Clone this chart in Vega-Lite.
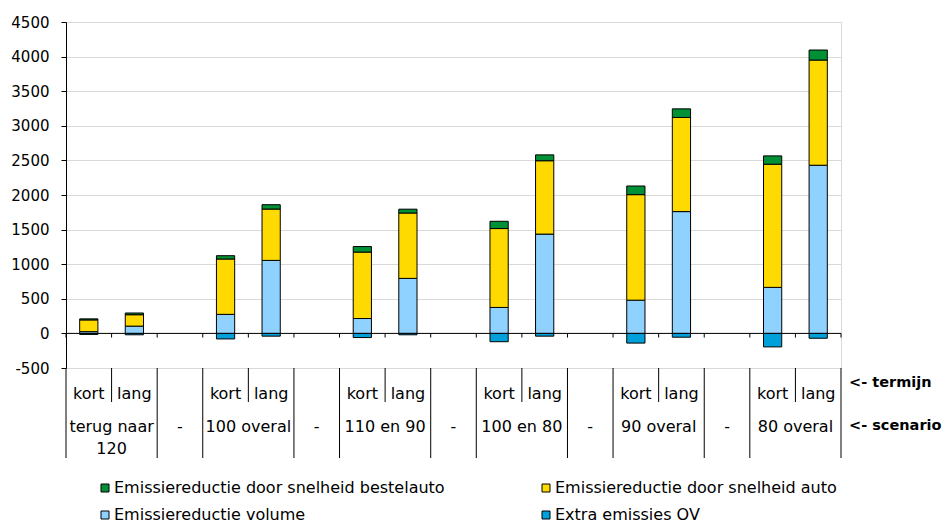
{
  "$schema": "https://vega.github.io/schema/vega-lite/v6.json",
  "background": "white",
  "padding": {"left": 10, "top": 14, "right": 0, "bottom": 0},
  "bounds": "flush",
  "spacing": 0,
  "config": {
    "font": "DejaVu Sans",
    "text": {"font": "DejaVu Sans", "fontSize": 16, "color": "black"},
    "rule": {"color": "black", "strokeWidth": 1}
  },
  "datasets": {
    "uitstoot": [
      {"vak": "120-kort", "reeks": "Emissiereductie volume", "waarde": 25},
      {"vak": "120-kort", "reeks": "Emissiereductie door snelheid auto", "waarde": 170},
      {"vak": "120-kort", "reeks": "Emissiereductie door snelheid bestelauto", "waarde": 15},
      {"vak": "120-kort", "reeks": "Extra emissies OV", "waarde": -15},
      {"vak": "120-lang", "reeks": "Emissiereductie volume", "waarde": 105},
      {"vak": "120-lang", "reeks": "Emissiereductie door snelheid auto", "waarde": 165},
      {"vak": "120-lang", "reeks": "Emissiereductie door snelheid bestelauto", "waarde": 25},
      {"vak": "120-lang", "reeks": "Extra emissies OV", "waarde": -20},
      {"vak": "100-kort", "reeks": "Emissiereductie volume", "waarde": 275},
      {"vak": "100-kort", "reeks": "Emissiereductie door snelheid auto", "waarde": 800},
      {"vak": "100-kort", "reeks": "Emissiereductie door snelheid bestelauto", "waarde": 48},
      {"vak": "100-kort", "reeks": "Extra emissies OV", "waarde": -80},
      {"vak": "100-lang", "reeks": "Emissiereductie volume", "waarde": 1055},
      {"vak": "100-lang", "reeks": "Emissiereductie door snelheid auto", "waarde": 742},
      {"vak": "100-lang", "reeks": "Emissiereductie door snelheid bestelauto", "waarde": 63},
      {"vak": "100-lang", "reeks": "Extra emissies OV", "waarde": -40},
      {"vak": "110/90-kort", "reeks": "Emissiereductie volume", "waarde": 215},
      {"vak": "110/90-kort", "reeks": "Emissiereductie door snelheid auto", "waarde": 960},
      {"vak": "110/90-kort", "reeks": "Emissiereductie door snelheid bestelauto", "waarde": 80},
      {"vak": "110/90-kort", "reeks": "Extra emissies OV", "waarde": -60},
      {"vak": "110/90-lang", "reeks": "Emissiereductie volume", "waarde": 795},
      {"vak": "110/90-lang", "reeks": "Emissiereductie door snelheid auto", "waarde": 945},
      {"vak": "110/90-lang", "reeks": "Emissiereductie door snelheid bestelauto", "waarde": 55},
      {"vak": "110/90-lang", "reeks": "Extra emissies OV", "waarde": -20},
      {"vak": "100/80-kort", "reeks": "Emissiereductie volume", "waarde": 375},
      {"vak": "100/80-kort", "reeks": "Emissiereductie door snelheid auto", "waarde": 1140},
      {"vak": "100/80-kort", "reeks": "Emissiereductie door snelheid bestelauto", "waarde": 105},
      {"vak": "100/80-kort", "reeks": "Extra emissies OV", "waarde": -120},
      {"vak": "100/80-lang", "reeks": "Emissiereductie volume", "waarde": 1435},
      {"vak": "100/80-lang", "reeks": "Emissiereductie door snelheid auto", "waarde": 1060},
      {"vak": "100/80-lang", "reeks": "Emissiereductie door snelheid bestelauto", "waarde": 85},
      {"vak": "100/80-lang", "reeks": "Extra emissies OV", "waarde": -40},
      {"vak": "90-kort", "reeks": "Emissiereductie volume", "waarde": 480},
      {"vak": "90-kort", "reeks": "Emissiereductie door snelheid auto", "waarde": 1525},
      {"vak": "90-kort", "reeks": "Emissiereductie door snelheid bestelauto", "waarde": 125},
      {"vak": "90-kort", "reeks": "Extra emissies OV", "waarde": -140},
      {"vak": "90-lang", "reeks": "Emissiereductie volume", "waarde": 1760},
      {"vak": "90-lang", "reeks": "Emissiereductie door snelheid auto", "waarde": 1360},
      {"vak": "90-lang", "reeks": "Emissiereductie door snelheid bestelauto", "waarde": 125},
      {"vak": "90-lang", "reeks": "Extra emissies OV", "waarde": -55},
      {"vak": "80-kort", "reeks": "Emissiereductie volume", "waarde": 665},
      {"vak": "80-kort", "reeks": "Emissiereductie door snelheid auto", "waarde": 1780},
      {"vak": "80-kort", "reeks": "Emissiereductie door snelheid bestelauto", "waarde": 120},
      {"vak": "80-kort", "reeks": "Extra emissies OV", "waarde": -195},
      {"vak": "80-lang", "reeks": "Emissiereductie volume", "waarde": 2430},
      {"vak": "80-lang", "reeks": "Emissiereductie door snelheid auto", "waarde": 1520},
      {"vak": "80-lang", "reeks": "Emissiereductie door snelheid bestelauto", "waarde": 145},
      {"vak": "80-lang", "reeks": "Extra emissies OV", "waarde": -70}
    ],
    "vakken": [
      {"vak": "120-kort", "termijn": "kort", "scenario": ""},
      {"vak": "120-lang", "termijn": "lang", "scenario": "terug naar\n120"},
      {"vak": "tussen-1", "termijn": "", "scenario": "-"},
      {"vak": "100-kort", "termijn": "kort", "scenario": ""},
      {"vak": "100-lang", "termijn": "lang", "scenario": "100 overal"},
      {"vak": "tussen-2", "termijn": "", "scenario": "-"},
      {"vak": "110/90-kort", "termijn": "kort", "scenario": ""},
      {"vak": "110/90-lang", "termijn": "lang", "scenario": "110 en 90"},
      {"vak": "tussen-3", "termijn": "", "scenario": "-"},
      {"vak": "100/80-kort", "termijn": "kort", "scenario": ""},
      {"vak": "100/80-lang", "termijn": "lang", "scenario": "100 en 80"},
      {"vak": "tussen-4", "termijn": "", "scenario": "-"},
      {"vak": "90-kort", "termijn": "kort", "scenario": ""},
      {"vak": "90-lang", "termijn": "lang", "scenario": "90 overal"},
      {"vak": "tussen-5", "termijn": "", "scenario": "-"},
      {"vak": "80-kort", "termijn": "kort", "scenario": ""},
      {"vak": "80-lang", "termijn": "lang", "scenario": "80 overal"}
    ]
  },
  "vconcat": [
    {
      "width": 775,
      "height": 346,
      "view": {"stroke": "#d9d9d9"},
      "layer": [
        {
          "data": {"values": [{}]},
          "mark": {"type": "rule", "color": "black"},
          "encoding": {"y": {"datum": 0, "type": "quantitative"}}
        },
        {
          "data": {"name": "uitstoot"},
          "transform": [
            {"calculate": "indexof(['Extra emissies OV', 'Emissiereductie volume', 'Emissiereductie door snelheid auto', 'Emissiereductie door snelheid bestelauto'], datum.reeks)", "as": "stapel"}
          ],
          "mark": {"type": "bar", "width": {"band": 0.4}, "stroke": "black", "strokeWidth": 1},
          "encoding": {
            "x": {
              "field": "vak", "type": "nominal",
              "scale": {"domain": ["120-kort", "120-lang", "tussen-1", "100-kort", "100-lang", "tussen-2", "110/90-kort", "110/90-lang", "tussen-3", "100/80-kort", "100/80-lang", "tussen-4", "90-kort", "90-lang", "tussen-5", "80-kort", "80-lang"], "paddingInner": 0, "paddingOuter": 0},
              "axis": null
            },
            "y": {
              "field": "waarde", "type": "quantitative", "stack": "zero",
              "scale": {"domain": [-500, 4500], "nice": false, "zero": false},
              "axis": {
                "title": null,
                "values": [-500, 0, 500, 1000, 1500, 2000, 2500, 3000, 3500, 4000, 4500],
                "tickCount": 20,
                "labelExpr": "datum.value + ''", "labelOverlap": false,
                "grid": true, "gridColor": "#d9d9d9", "gridWidth": 1,
                "domainColor": "black", "domainWidth": 1,
                "tickColor": "black", "tickSize": 5, "tickWidth": 1,
                "labelPadding": 12, "labelFont": "DejaVu Sans", "labelFontSize": 15, "labelColor": "black"
              }
            },
            "color": {
              "field": "reeks", "type": "nominal",
              "scale": {
                "domain": ["Emissiereductie door snelheid bestelauto", "Emissiereductie door snelheid auto", "Emissiereductie volume", "Extra emissies OV"],
                "range": ["#009035", "#ffda00", "#90d2ff", "#00a0da"]
              },
              "legend": {
                "orient": "none", "legendX": 31, "legendY": 458,
                "direction": "horizontal", "padding": 0,
                "title": null, "columns": 2, "columnPadding": 93, "rowPadding": 11,
                "symbolType": "square", "symbolSize": 64, "symbolOffset": 0,
                "symbolStrokeColor": "black", "symbolStrokeWidth": 1,
                "labelFont": "DejaVu Sans", "labelFontSize": 16, "labelColor": "black",
                "labelLimit": 0, "labelOffset": 1
              }
            },
            "order": {"field": "stapel", "type": "quantitative", "sort": "ascending"}
          }
        },
        {
          "data": {"name": "vakken"},
          "mark": {"type": "rule", "color": "black"},
          "encoding": {
            "x": {
              "field": "vak", "type": "nominal", "bandPosition": 0,
              "scale": {"domain": ["120-kort", "120-lang", "tussen-1", "100-kort", "100-lang", "tussen-2", "110/90-kort", "110/90-lang", "tussen-3", "100/80-kort", "100/80-lang", "tussen-4", "90-kort", "90-lang", "tussen-5", "80-kort", "80-lang"], "paddingInner": 0, "paddingOuter": 0},
              "axis": null
            },
            "y": {"datum": 0, "type": "quantitative"},
            "y2": {"datum": -60}
          }
        },
        {
          "data": {"values": [{}]},
          "mark": {"type": "rule", "color": "black"},
          "encoding": {
            "x": {"datum": "80-lang", "type": "nominal", "bandPosition": 1},
            "y": {"datum": 0, "type": "quantitative"},
            "y2": {"datum": -60}
          }
        }
      ]
    },
    {
      "width": 775,
      "height": 34,
      "view": {"stroke": null},
      "data": {"name": "vakken"},
      "encoding": {
        "x": {
          "field": "vak", "type": "nominal",
          "scale": {"domain": ["120-kort", "120-lang", "tussen-1", "100-kort", "100-lang", "tussen-2", "110/90-kort", "110/90-lang", "tussen-3", "100/80-kort", "100/80-lang", "tussen-4", "90-kort", "90-lang", "tussen-5", "80-kort", "80-lang"], "paddingInner": 0, "paddingOuter": 0},
          "axis": null
        }
      },
      "layer": [
        {
          "mark": {"type": "rule", "color": "black"},
          "encoding": {"x": {"field": "vak", "type": "nominal", "bandPosition": 0}}
        },
        {
          "transform": [{"filter": "datum.vak == '80-lang'"}],
          "mark": {"type": "rule", "color": "black"},
          "encoding": {"x": {"field": "vak", "type": "nominal", "bandPosition": 1}}
        },
        {
          "mark": {"type": "text", "fontSize": 16, "baseline": "alphabetic", "dy": 14},
          "encoding": {"text": {"field": "termijn"}}
        },
        {
          "transform": [{"filter": "datum.vak == '80-lang'"}],
          "mark": {"type": "text", "fontSize": 14.5, "fontWeight": "bold", "align": "left", "baseline": "middle", "dx": 8, "dy": -2},
          "encoding": {
            "x": {"field": "vak", "type": "nominal", "bandPosition": 1},
            "text": {"value": "<- termijn"}
          }
        }
      ]
    },
    {
      "width": 775,
      "height": 56,
      "view": {"stroke": null},
      "data": {"name": "vakken"},
      "encoding": {
        "x": {
          "field": "vak", "type": "nominal",
          "scale": {"domain": ["120-kort", "120-lang", "tussen-1", "100-kort", "100-lang", "tussen-2", "110/90-kort", "110/90-lang", "tussen-3", "100/80-kort", "100/80-lang", "tussen-4", "90-kort", "90-lang", "tussen-5", "80-kort", "80-lang"], "paddingInner": 0, "paddingOuter": 0},
          "axis": null
        }
      },
      "layer": [
        {
          "transform": [{"filter": "datum.termijn != 'lang'"}],
          "mark": {"type": "rule", "color": "black"},
          "encoding": {"x": {"field": "vak", "type": "nominal", "bandPosition": 0}}
        },
        {
          "transform": [{"filter": "datum.vak == '80-lang'"}],
          "mark": {"type": "rule", "color": "black"},
          "encoding": {"x": {"field": "vak", "type": "nominal", "bandPosition": 1}}
        },
        {
          "transform": [{"filter": "datum.termijn == 'lang'"}],
          "mark": {"type": "text", "fontSize": 16, "baseline": "alphabetic", "dy": 2, "lineBreak": "\n", "lineHeight": 22},
          "encoding": {
            "x": {"field": "vak", "type": "nominal", "bandPosition": 0},
            "text": {"field": "scenario"}
          }
        },
        {
          "transform": [{"filter": "datum.termijn == ''"}],
          "mark": {"type": "text", "fontSize": 16, "baseline": "alphabetic", "dy": 2},
          "encoding": {"text": {"field": "scenario"}}
        },
        {
          "transform": [{"filter": "datum.vak == '80-lang'"}],
          "mark": {"type": "text", "fontSize": 14.5, "fontWeight": "bold", "align": "left", "baseline": "middle", "dx": 8, "dy": -4},
          "encoding": {
            "x": {"field": "vak", "type": "nominal", "bandPosition": 1},
            "text": {"value": "<- scenario"}
          }
        }
      ]
    }
  ]
}
